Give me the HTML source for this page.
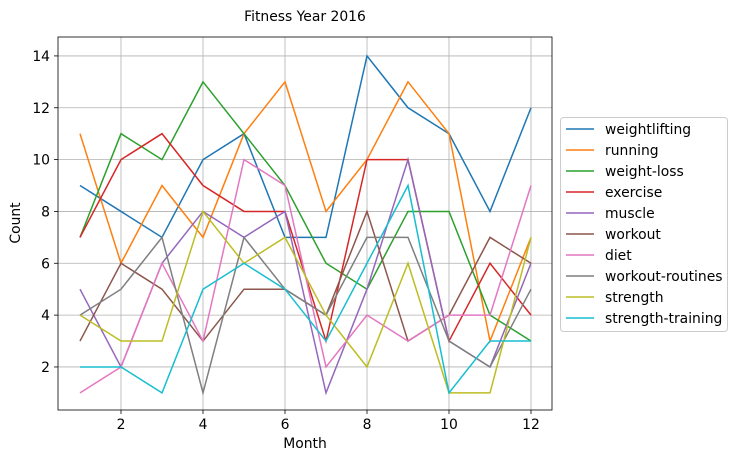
<!DOCTYPE html>
<html><head><meta charset="utf-8"><style>
body{margin:0;background:#fff;font-family:"Liberation Sans","DejaVu Sans",sans-serif}
svg text{font-family:"DejaVu Sans","Liberation Sans",sans-serif;font-size:13.9px;fill:#000}
</style></head><body>
<svg id="chart" width="737" height="462" xmlns="http://www.w3.org/2000/svg"></svg>
<script>
const months=[1,2,3,4,5,6,7,8,9,10,11,12];
const seriesNames=["weightlifting","running","weight-loss","exercise","muscle","workout","diet","workout-routines","strength","strength-training"];
const weightlifting=[9,8,7,10,11,7,7,14,12,11,8,12];
const running=[11,6,9,7,11,13,8,10,13,11,3,7];
const weightLoss=[7,11,10,13,11,9,6,5,8,8,4,3];
const exercise=[7,10,11,9,8,8,3,10,10,3,6,4];
const muscle=[5,2,6,8,7,8,1,5,10,3,2,6];
const workout=[3,6,5,3,5,5,4,8,3,4,7,6];
const diet=[1,2,6,3,10,9,2,4,3,4,4,9];
const workoutRoutines=[4,5,7,1,7,5,4,7,7,3,2,5];
const strength=[4,3,3,8,6,7,4,2,6,1,1,7];
const strengthTraining=[2,2,1,5,6,5,3,6,9,1,3,3];
const xTicks=[2,4,6,8,10,12];
const yTicks=[2,4,6,8,10,12,14];
const allSeries=[weightlifting,running,weightLoss,exercise,muscle,workout,diet,workoutRoutines,strength,strengthTraining];
const colors=["#1f77b4","#ff7f0e","#2ca02c","#d62728","#9467bd","#8c564b","#e377c2","#7f7f7f","#bcbd22","#17becf"];
const L=58,R=552,T=37,B=410;
const x=v=>80+(v-1)*41;
const y=v=>418.8-v*25.92;
const svg=document.getElementById('chart');
const NS="http://www.w3.org/2000/svg";
function mk(t,a){const e=document.createElementNS(NS,t);for(const k in a)e.setAttribute(k,a[k]);svg.appendChild(e);return e;}
xTicks.forEach(v=>{
 const g=mk('line',{x1:x(v),x2:x(v),y1:T,y2:B,stroke:'#b0b0b0','stroke-width':0.8});
 
 
 mk('line',{x1:x(v),x2:x(v),y1:B,y2:B+4,stroke:'#000','stroke-width':0.8});
 const t=mk('text',{x:x(v),y:B+19,'text-anchor':'middle'});t.textContent=v;
 
 
});
yTicks.forEach(v=>{
 const g=mk('line',{x1:L,x2:R,y1:y(v),y2:y(v),stroke:'#b0b0b0','stroke-width':0.8});
 
 
 mk('line',{x1:L-4,x2:L,y1:y(v),y2:y(v),stroke:'#000','stroke-width':0.8});
 const t=mk('text',{x:L-8,y:y(v)+5,'text-anchor':'end'});t.textContent=v;
 
 
});
allSeries.forEach((s,i)=>{
 const p=mk('polyline',{points:s.map((v,j)=>x(months[j])+','+y(v)).join(' '),fill:'none',stroke:colors[i],'stroke-width':1.5});
 
 
});
const fr=mk('rect',{x:L,y:T,width:R-L,height:B-T,fill:'none',stroke:'#000','stroke-width':0.8});


const ti=mk('text',{x:305,y:21,'text-anchor':'middle'});ti.textContent='Fitness Year 2016';


const xt=mk('text',{x:305,y:448,'text-anchor':'middle'});xt.textContent='Month';


const yt=mk('text',{x:20,y:223,'text-anchor':'middle',transform:'rotate(-90 20 223)'});yt.textContent='Count';


const lb=mk('rect',{x:560.5,y:117.5,width:167,height:214,rx:3,fill:'#fff',stroke:'#ccc','stroke-width':1});


seriesNames.forEach((n,i)=>{
 const yy=129+i*21;
 mk('line',{x1:566,x2:594,y1:yy,y2:yy,stroke:colors[i],'stroke-width':1.5});
 const t=mk('text',{x:605,y:yy+5});t.textContent=n;
 
 
});
</script>
</body></html>
